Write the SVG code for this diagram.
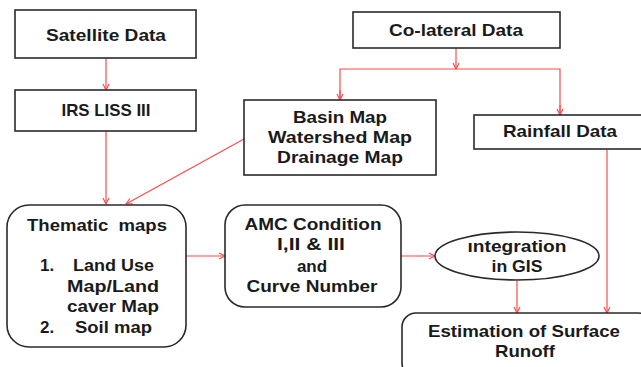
<svg xmlns="http://www.w3.org/2000/svg" width="641" height="367" viewBox="0 0 641 367">
<style>
.box{fill:#fff;stroke:#2a2a2a;stroke-width:1.6}
.t{font-family:"Liberation Sans",Arial,sans-serif;font-weight:bold;font-size:17px;fill:#1a1a1a;white-space:pre}
.c{text-anchor:middle}
.ln{fill:none;stroke:#ff4a4a;stroke-width:1.2}
</style>
<defs>
<marker id="ah" markerWidth="8" markerHeight="8" refX="7" refY="4" orient="auto" markerUnits="userSpaceOnUse">
<path d="M1,1 L7,4 L1,7" fill="none" stroke="#ff4a4a" stroke-width="1.2"/>
</marker>
</defs>
<rect width="641" height="367" fill="#fff"/>
<g id="connectors">
<line class="ln" x1="106" y1="58" x2="106" y2="90" marker-end="url(#ah)"/>
<line class="ln" x1="106" y1="131" x2="106" y2="204" marker-end="url(#ah)"/>
<line class="ln" x1="244" y1="139" x2="126" y2="204" marker-end="url(#ah)"/>
<line class="ln" x1="456" y1="48" x2="456" y2="69" marker-end="url(#ah)"/>
<polyline class="ln" points="340,100 340,69 560,69 560,115"/>
<line class="ln" x1="340" y1="90" x2="340" y2="100" marker-end="url(#ah)"/>
<line class="ln" x1="560" y1="105" x2="560" y2="115" marker-end="url(#ah)"/>
<line class="ln" x1="186" y1="256" x2="225" y2="256" marker-end="url(#ah)"/>
<line class="ln" x1="401" y1="256" x2="435" y2="256" marker-end="url(#ah)"/>
<line class="ln" x1="517" y1="281" x2="517" y2="313" marker-end="url(#ah)"/>
<line class="ln" x1="607" y1="150" x2="607" y2="313" marker-end="url(#ah)"/>
</g>
<g id="satellite">
<rect class="box" x="15" y="10" width="181" height="48"/>
<text class="t c" x="106" y="41" textLength="120" lengthAdjust="spacingAndGlyphs">Satellite Data</text>
</g>
<g id="irs">
<rect class="box" x="15" y="90" width="181" height="41"/>
<text class="t c" x="106" y="116" textLength="89" lengthAdjust="spacingAndGlyphs">IRS LISS III</text>
</g>
<g id="colateral">
<rect class="box" x="353" y="12" width="207" height="36"/>
<text class="t c" x="456" y="36" textLength="134" lengthAdjust="spacingAndGlyphs">Co-lateral Data</text>
</g>
<g id="basin">
<rect class="box" x="244" y="100" width="192" height="75"/>
<text class="t c" x="340" y="123" textLength="94" lengthAdjust="spacingAndGlyphs">Basin Map</text>
<text class="t c" x="340" y="143" textLength="144" lengthAdjust="spacingAndGlyphs">Watershed Map</text>
<text class="t c" x="340" y="163" textLength="126" lengthAdjust="spacingAndGlyphs">Drainage Map</text>
</g>
<g id="rainfall">
<rect class="box" x="474" y="115" width="175" height="34"/>
<text class="t c" x="560" y="137" textLength="114" lengthAdjust="spacingAndGlyphs">Rainfall Data</text>
</g>
<g id="thematic">
<rect class="box" x="7" y="205" width="179" height="142" rx="22"/>
<text class="t" x="27" y="231" textLength="140" lengthAdjust="spacingAndGlyphs" xml:space="preserve">Thematic  maps</text>
<text class="t" x="40" y="271">1.</text>
<text class="t" x="73" y="271" textLength="81" lengthAdjust="spacingAndGlyphs">Land Use</text>
<text class="t" x="67" y="292" textLength="92" lengthAdjust="spacingAndGlyphs">Map/Land</text>
<text class="t" x="67" y="312" textLength="92" lengthAdjust="spacingAndGlyphs">caver Map</text>
<text class="t" x="40" y="333">2.</text>
<text class="t" x="75" y="333" textLength="77" lengthAdjust="spacingAndGlyphs">Soil map</text>
</g>
<g id="amc">
<rect class="box" x="225" y="205" width="176" height="102" rx="20"/>
<text class="t c" x="313" y="230" textLength="137" lengthAdjust="spacingAndGlyphs">AMC Condition</text>
<text class="t c" x="311" y="250" textLength="68" lengthAdjust="spacingAndGlyphs">I,II &amp; III</text>
<text class="t c" x="312" y="272">and</text>
<text class="t c" x="312" y="292" textLength="131" lengthAdjust="spacingAndGlyphs">Curve Number</text>
</g>
<g id="integration">
<ellipse class="box" cx="517" cy="256" rx="82" ry="24"/>
<text class="t c" x="517" y="252" textLength="99" lengthAdjust="spacingAndGlyphs">ıntegration</text>
<text class="t c" x="517" y="272" textLength="51" lengthAdjust="spacingAndGlyphs">in GIS</text>
</g>
<g id="estimation">
<rect class="box" x="402" y="313" width="250" height="64" rx="14"/>
<text class="t c" x="524" y="337" textLength="192" lengthAdjust="spacingAndGlyphs">Estimation of Surface</text>
<text class="t c" x="525" y="357" textLength="60" lengthAdjust="spacingAndGlyphs">Runoff</text>
</g>
</svg>
